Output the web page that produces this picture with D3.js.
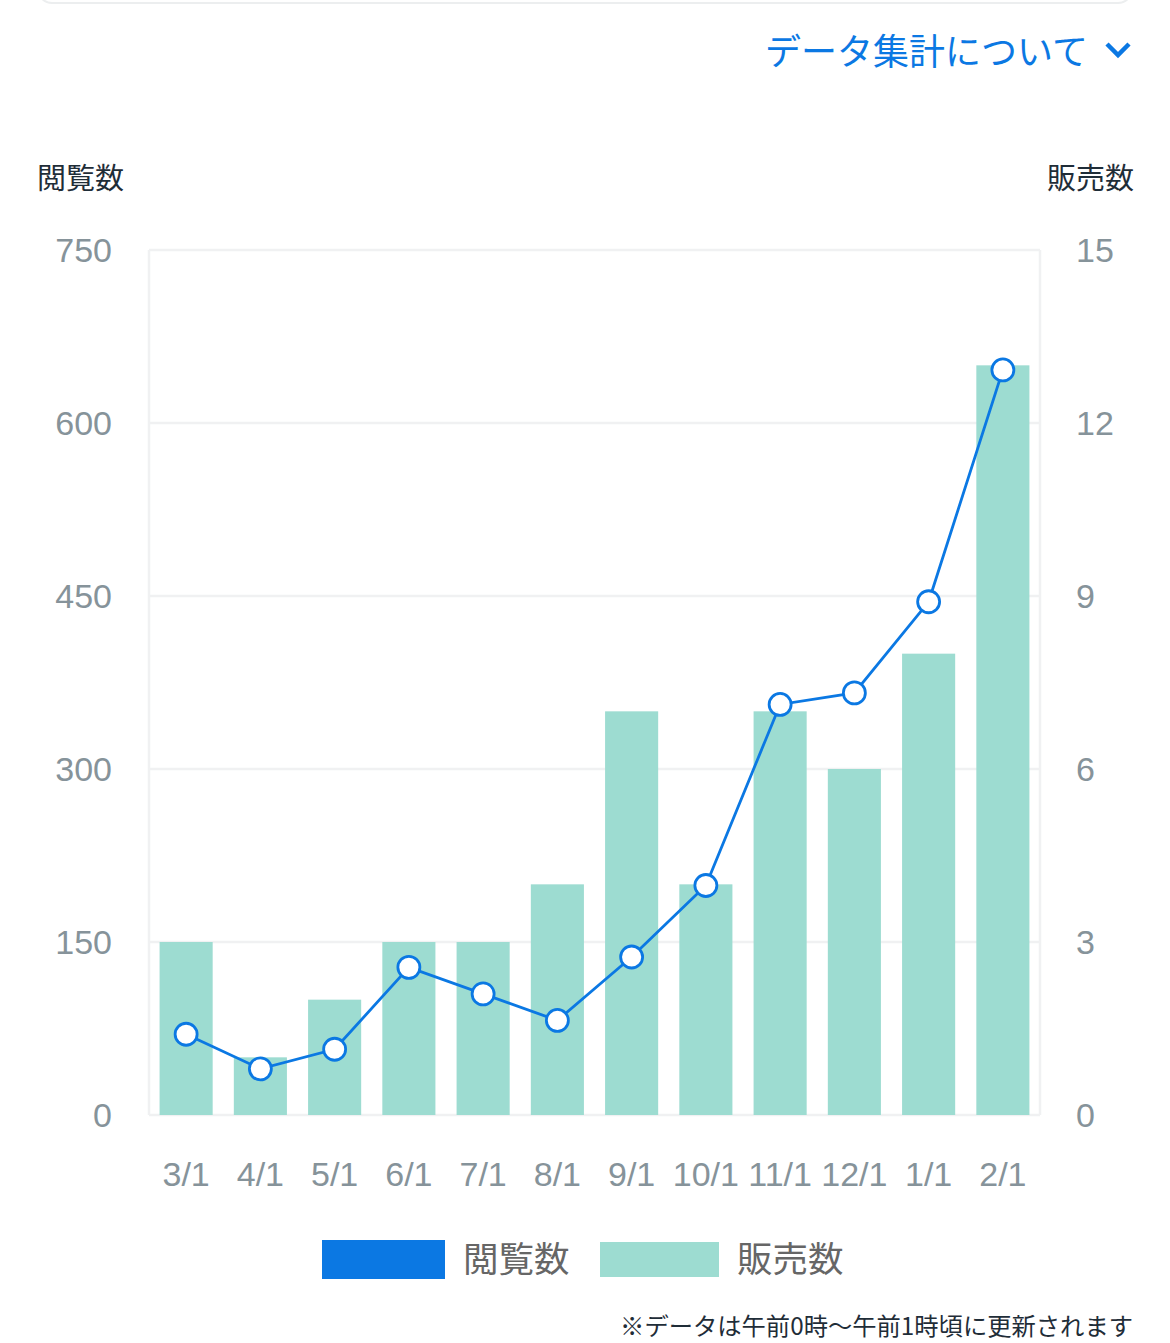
<!DOCTYPE html>
<html>
<head>
<meta charset="utf-8">
<script src="https://cdn.jsdelivr.net/npm/d3@7"></script>
<style>
  body { margin: 0; background: #fff; }
  svg { display: block; font-family: "Noto Sans CJK JP", "Helvetica Neue", sans-serif; }
  .tick-num { font-family: "Liberation Sans", "Helvetica Neue", Arial, sans-serif; }
</style>
</head>
<body>
<svg id="chart" width="1170" height="1343"></svg>
<script>
var months = ["3/1","4/1","5/1","6/1","7/1","8/1","9/1","10/1","11/1","12/1","1/1","2/1"];
var views = [70, 40, 57, 128, 105, 82, 137, 199, 356, 366, 445, 646];
var sales = [3, 1, 2, 3, 3, 4, 7, 4, 7, 6, 8, 13];
var viewTicks = [0, 150, 300, 450, 600, 750];
var salesTicks = [0, 3, 6, 9, 12, 15];

var blue = "#0b78e3",
    teal = "#9ddcd1",
    grid = "#f0f1f2",
    tickGray = "#86939a";

var svg = d3.select("#chart");

var plotLeft = 149, plotRight = 1040, plotTop = 250, plotBottom = 1115;

var x = d3.scaleBand().domain(months).range([plotLeft, plotRight]).padding(0);
var yL = d3.scaleLinear().domain([0, 750]).range([plotBottom, plotTop]);
var yR = d3.scaleLinear().domain([0, 15]).range([plotBottom, plotTop]);

// card edge at top
svg.append("rect")
    .attr("x", 38).attr("y", -30)
    .attr("width", 1094).attr("height", 33)
    .attr("rx", 14)
    .attr("fill", "#fff")
    .attr("stroke", "#eceeef")
    .attr("stroke-width", 2);

// data link
svg.append("text")
    .attr("x", 1088).attr("y", 65)
    .attr("text-anchor", "end")
    .attr("fill", blue)
    .attr("font-size", 36)
    .text("データ集計について");

svg.append("path")
    .attr("d", "M1107,44 L1118,55 L1129,44")
    .attr("fill", "none")
    .attr("stroke", blue)
    .attr("stroke-width", 4.5);

// axis titles
svg.append("text")
    .attr("x", 37).attr("y", 189)
    .attr("fill", "#1f2d38")
    .attr("font-size", 29)
    .text("閲覧数");

svg.append("text")
    .attr("x", 1134).attr("y", 189)
    .attr("text-anchor", "end")
    .attr("fill", "#1f2d38")
    .attr("font-size", 29)
    .text("販売数");

// gridlines + frame
svg.append("g").selectAll("line")
    .data(viewTicks)
  .enter().append("line")
    .attr("x1", plotLeft).attr("x2", plotRight)
    .attr("y1", function(d) { return yL(d); })
    .attr("y2", function(d) { return yL(d); })
    .attr("stroke", grid)
    .attr("stroke-width", 2.5);

svg.append("line")
    .attr("x1", plotLeft).attr("x2", plotLeft)
    .attr("y1", plotTop).attr("y2", plotBottom)
    .attr("stroke", grid).attr("stroke-width", 2.5);
svg.append("line")
    .attr("x1", plotRight).attr("x2", plotRight)
    .attr("y1", plotTop).attr("y2", plotBottom)
    .attr("stroke", grid).attr("stroke-width", 2.5);

// left axis
var yAxisL = d3.axisLeft(yL).tickValues(viewTicks).tickSize(0).tickPadding(37);
var gL = svg.append("g")
    .attr("transform", "translate(" + plotLeft + ",0)")
    .call(yAxisL);
gL.select(".domain").remove();
gL.selectAll("text")
    .attr("class", "tick-num")
    .attr("fill", tickGray)
    .attr("font-size", 34)
    .attr("dy", "0.35em");

// right axis
var yAxisR = d3.axisRight(yR).tickValues(salesTicks).tickSize(0).tickPadding(36);
var gR = svg.append("g")
    .attr("transform", "translate(" + plotRight + ",0)")
    .call(yAxisR);
gR.select(".domain").remove();
gR.selectAll("text")
    .attr("class", "tick-num")
    .attr("fill", tickGray)
    .attr("font-size", 34)
    .attr("dy", "0.35em");

// bottom axis
var xAxis = d3.axisBottom(x).tickSize(0).tickPadding(47);
var gX = svg.append("g")
    .attr("transform", "translate(0," + plotBottom + ")")
    .call(xAxis);
gX.select(".domain").remove();
gX.selectAll("text")
    .attr("class", "tick-num")
    .attr("fill", tickGray)
    .attr("font-size", 34)
    .attr("dy", "0.7em");

// bars (sales, right axis)
var barW = x.bandwidth() * 0.715;
svg.append("g").selectAll("rect")
    .data(sales)
  .enter().append("rect")
    .attr("x", function(d, i) { return x(months[i]) + (x.bandwidth() - barW) / 2; })
    .attr("width", barW)
    .attr("y", function(d) { return yR(d); })
    .attr("height", function(d) { return plotBottom - yR(d); })
    .attr("fill", teal);

// line (views, left axis)
var line = d3.line()
    .x(function(d, i) { return x(months[i]) + x.bandwidth() / 2; })
    .y(function(d) { return yL(d); });

svg.append("path")
    .datum(views)
    .attr("d", line)
    .attr("fill", "none")
    .attr("stroke", blue)
    .attr("stroke-width", 2.8);

svg.append("g").selectAll("circle")
    .data(views)
  .enter().append("circle")
    .attr("cx", function(d, i) { return x(months[i]) + x.bandwidth() / 2; })
    .attr("cy", function(d) { return yL(d); })
    .attr("r", 11)
    .attr("fill", "#fff")
    .attr("stroke", blue)
    .attr("stroke-width", 2.8);

// legend
var legend = [
  { name: "閲覧数", color: blue, x: 322, w: 123, y: 1240, h: 39 },
  { name: "販売数", color: teal, x: 600, w: 119, y: 1242, h: 35 }
];
var lg = svg.append("g").selectAll("g")
    .data(legend)
  .enter().append("g");
lg.append("rect")
    .attr("x", function(d) { return d.x; })
    .attr("y", function(d) { return d.y; })
    .attr("width", function(d) { return d.w; })
    .attr("height", function(d) { return d.h; })
    .attr("fill", function(d) { return d.color; });
lg.append("text")
    .attr("x", function(d) { return d.x + d.w + 18; })
    .attr("y", 1272)
    .attr("fill", "#666")
    .attr("font-size", 35.5)
    .text(function(d) { return d.name; });

// footnote
svg.append("text")
    .attr("x", 1133).attr("y", 1335)
    .attr("text-anchor", "end")
    .attr("fill", "#1f2d38")
    .attr("font-size", 24.3)
    .text("※データは午前0時〜午前1時頃に更新されます");
</script>
</body>
</html>
